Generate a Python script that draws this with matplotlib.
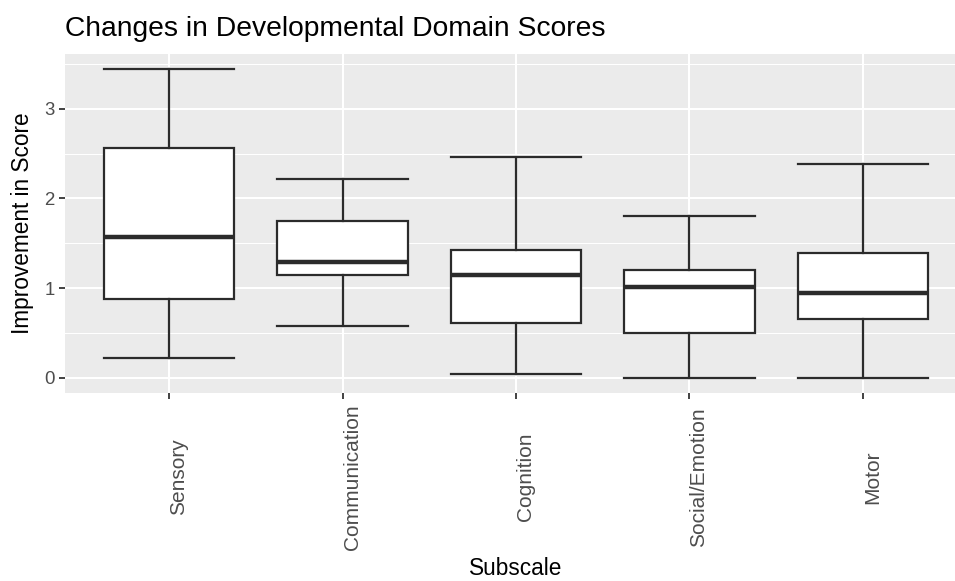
import matplotlib
matplotlib.use("Agg")
import matplotlib.pyplot as plt
from matplotlib.ticker import MultipleLocator
from matplotlib.transforms import blended_transform_factory

categories = ["Sensory", "Communication", "Cognition", "Social/Emotion", "Motor"]
whisker_low = [0.223, 0.571, 0.037, 0.0, 0.0]
q1 = [0.872, 1.143, 0.612, 0.501, 0.657]
median = [1.566, 1.287, 1.150, 1.006, 0.939]
q3 = [2.560, 1.752, 1.429, 1.206, 1.392]
whisker_high = [3.440, 2.216, 2.464, 1.800, 2.383]
y_ticks = [0, 1, 2, 3]

plt.rcParams['font.family'] = ['Liberation Sans', 'DejaVu Sans']

W, H = 955, 581
fig = plt.figure(figsize=(W / 100, H / 100), dpi=100)
ax = fig.add_axes([65 / W, 1 - 393 / H, (967 - 65) / W, (393 - 54) / H])
ax.set_facecolor('#EBEBEB')

stats = []
for i, c in enumerate(categories):
    stats.append(dict(label=c, whislo=whisker_low[i], q1=q1[i], med=median[i],
                      q3=q3[i], whishi=whisker_high[i], fliers=[]))

line_c = '#2b2b2b'
positions = list(range(len(categories)))
ax.bxp(stats, positions=positions, widths=0.75, capwidths=0.75,
       patch_artist=True, showfliers=False,
       boxprops=dict(facecolor='white', edgecolor=line_c, linewidth=1.6),
       whiskerprops=dict(color=line_c, linewidth=1.6),
       capprops=dict(color=line_c, linewidth=1.6),
       medianprops=dict(color=line_c, linewidth=3.2, solid_capstyle='butt'),
       zorder=3)

lo = min(whisker_low)
hi = max(whisker_high)
pad = 0.05 * (hi - lo)
ax.set_ylim(lo - pad, hi + pad)
ax.set_xlim(-0.6, len(categories) - 0.4)

ax.set_yticks(y_ticks)
ax.yaxis.set_minor_locator(MultipleLocator(0.5))
ax.set_xticks(positions)
ax.set_xticklabels([])

ax.grid(which='major', color='white', linewidth=1.5, zorder=0)
ax.grid(which='minor', axis='y', color='white', linewidth=0.75, zorder=0)
ax.set_axisbelow(True)
for s in ax.spines.values():
    s.set_visible(False)

ax.tick_params(axis='both', which='major', length=4.3, width=1.3, color='#333333',
               labelcolor='#4D4D4D', labelsize=13.4)
ax.tick_params(axis='y', which='major', pad=3)
ax.tick_params(which='minor', length=0)

# x category labels, rotated and centred vertically in the label band
trans = blended_transform_factory(ax.transData, fig.transFigure)
for p, c in zip(positions, categories):
    ax.text(p, 1 - 477 / H, c, transform=trans, rotation=90, ha='left',
            va='center', fontsize=15, color='#4D4D4D', clip_on=False)

fig.text(22 / W, 1 - 223.5 / H, "Improvement in Score", fontsize=16.3,
         rotation=90, ha='center', va='center')
fig.text((65 + 967) / 2 / W, 1 - 575 / H, "Subscale", fontsize=16.3,
         ha='center', va='baseline')
fig.text(65 / W, 1 - 36 / H, "Changes in Developmental Domain Scores",
         fontsize=20.3, ha='left', va='baseline')

fig.savefig("out.png", dpi=100)
